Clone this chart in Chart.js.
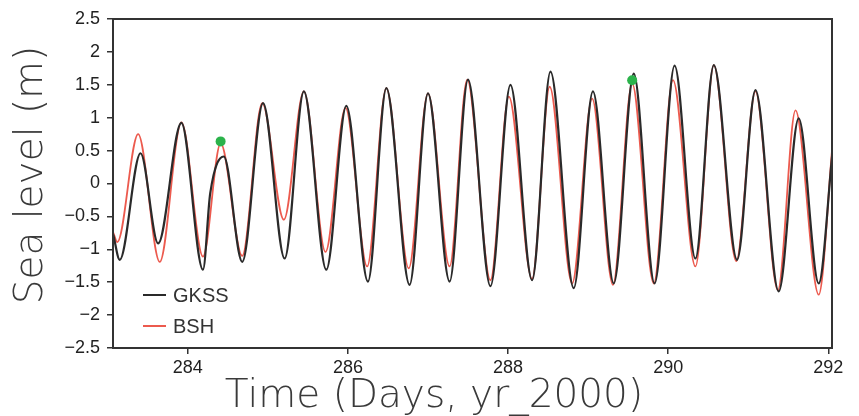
<!DOCTYPE html>
<html><head><meta charset="utf-8">
<script src="https://cdn.jsdelivr.net/npm/chart.js@4.4.1/dist/chart.umd.min.js"></script>
<style>html,body{margin:0;padding:0;background:#fff;overflow:hidden;}</style>
</head><body>
<canvas id="c" width="859" height="416" style="width:859px;height:416px;display:block"></canvas>
<script>
// ---- data ----
const seriesNames = ['GKSS', 'BSH'];
const gkssDays  = [283.07,283.15,283.41,283.63,283.92,284.19,284.28,284.45,284.68,284.94,285.21,285.45,285.73,285.98,286.25,286.48,286.77,287.00,287.27,287.50,287.78,288.03,288.30,288.53,288.82,289.06,289.32,289.57,289.83,290.08,290.34,290.57,290.86,291.09,291.38,291.63,291.88,292.05];
const gkssLevel = [-0.78,-1.16,0.46,-0.91,0.92,-1.31,-0.15,0.41,-1.19,1.22,-1.14,1.40,-1.31,1.18,-1.49,1.45,-1.54,1.37,-1.49,1.58,-1.56,1.50,-1.47,1.70,-1.59,1.40,-1.52,1.67,-1.52,1.79,-1.14,1.80,-1.16,1.42,-1.64,0.99,-1.52,0.45];
const bshDays   = [283.07,283.12,283.38,283.65,283.92,284.19,284.41,284.68,284.93,285.20,285.45,285.72,285.97,286.24,286.48,286.76,287.00,287.27,287.49,287.78,288.01,288.30,288.52,288.80,289.05,289.31,289.55,289.82,290.06,290.34,290.57,290.85,291.09,291.37,291.59,291.88,292.05];
const bshLevel  = [-0.75,-0.89,0.75,-1.19,0.93,-1.11,0.61,-1.10,1.22,-0.55,1.40,-1.04,1.15,-1.26,1.45,-1.29,1.37,-1.26,1.58,-1.47,1.32,-1.45,1.47,-1.52,1.29,-1.54,1.52,-1.52,1.57,-1.26,1.80,-1.18,1.40,-1.62,1.11,-1.69,0.55];
const markerDays  = [284.41, 289.55];
const markerLevel = [0.64, 1.57];
const xTicks = [284, 286, 288, 290, 292];
const yTicks = [-2.5, -2, -1.5, -1, -0.5, 0, 0.5, 1, 1.5, 2, 2.5];
const xTitle = 'Time (Days, yr_2000)';
const yTitle = 'Sea level (m)';

const toXY = (xs, ys) => xs.map((x, i) => ({x: x, y: ys[i]}));
const titleFontCss = '200 39px "DejaVu Sans", sans-serif';

const boxPlugin = {
  id: 'box',
  beforeDraw(chart) {
    const c = chart.ctx;
    c.save(); c.fillStyle = '#fff'; c.fillRect(0, 0, chart.width, chart.height); c.restore();
  },
  afterDatasetsDraw(chart) {
    const a = chart.chartArea, c = chart.ctx;
    c.save();
    c.strokeStyle = '#333'; c.lineWidth = 2;
    c.strokeRect(a.left, a.top, a.right - a.left, a.bottom - a.top);
    c.restore();
  },
  afterDraw(chart) {
    const a = chart.chartArea, c = chart.ctx;
    c.save();
    // legend
    c.font = '20px "Liberation Sans", Arial, sans-serif';
    c.textBaseline = 'middle';
    c.textAlign = 'left';
    seriesNames.forEach((name, k) => {
      const ds = chart.data.datasets.find(d => d.label === name);
      const y = a.bottom - 53 + k * 31;
      c.strokeStyle = ds.borderColor; c.lineWidth = 2;
      c.beginPath(); c.moveTo(a.left + 30, y); c.lineTo(a.left + 53, y); c.stroke();
      c.fillStyle = '#333';
      c.fillText(name, a.left + 60, y + 1);
    });
    // axis titles
    c.fillStyle = '#3a3a3a';
    c.font = titleFontCss;
    c.textAlign = 'center';
    c.textBaseline = 'alphabetic';
    c.fillText(xTitle, 434, 407);
    c.translate(42, 175);
    c.rotate(-Math.PI / 2);
    c.fillText(yTitle, 0, 0);
    c.restore();
  }
};

const tickFont = {family: '"Liberation Sans", Arial, sans-serif', size: 18};

new Chart(document.getElementById('c'), {
  type: 'line',
  data: {
    datasets: [
      {label: 'markers', data: toXY(markerDays, markerLevel), showLine: false, pointRadius: 5,
       pointBackgroundColor: '#2bb34b', pointBorderWidth: 0, order: 0},
      {label: seriesNames[0], data: toXY(gkssDays, gkssLevel), borderColor: '#2a2a2a', borderWidth: 2.2,
       pointRadius: 0, cubicInterpolationMode: 'monotone', order: 1},
      {label: seriesNames[1], data: toXY(bshDays, bshLevel), borderColor: '#ec5a4e', borderWidth: 1.8,
       pointRadius: 0, cubicInterpolationMode: 'monotone', order: 2}
    ]
  },
  options: {
    responsive: false, animation: false, devicePixelRatio: 1,
    layout: {padding: {left: 0, right: 27, top: 19, bottom: 0}},
    plugins: {legend: {display: false}, tooltip: {enabled: false}, title: {display: false}},
    scales: {
      x: {
        type: 'linear', min: 283.066, max: 292.046,
        afterBuildTicks: s => { s.ticks = xTicks.map(v => ({value: v})); },
        afterFit: s => { s.height = 68; },
        grid: {drawOnChartArea: false, drawTicks: true, tickLength: 6, color: '#333', lineWidth: 1.5},
        border: {display: false},
        ticks: {padding: 3, color: '#222', font: tickFont, maxRotation: 0, autoSkip: false, callback: v => String(v)}
      },
      y: {
        type: 'linear', min: -2.5, max: 2.5,
        afterBuildTicks: s => { s.ticks = yTicks.map(v => ({value: v})); },
        afterFit: s => { s.width = 113; },
        grid: {drawOnChartArea: false, drawTicks: true, tickLength: 6, color: '#333', lineWidth: 1.5},
        border: {display: false},
        ticks: {padding: 7, color: '#222', font: tickFont, autoSkip: false,
                callback: v => (v < 0 ? '\u2212' + Math.abs(v) : String(v))}
      }
    }
  },
  plugins: [boxPlugin]
});
</script>
</body></html>
